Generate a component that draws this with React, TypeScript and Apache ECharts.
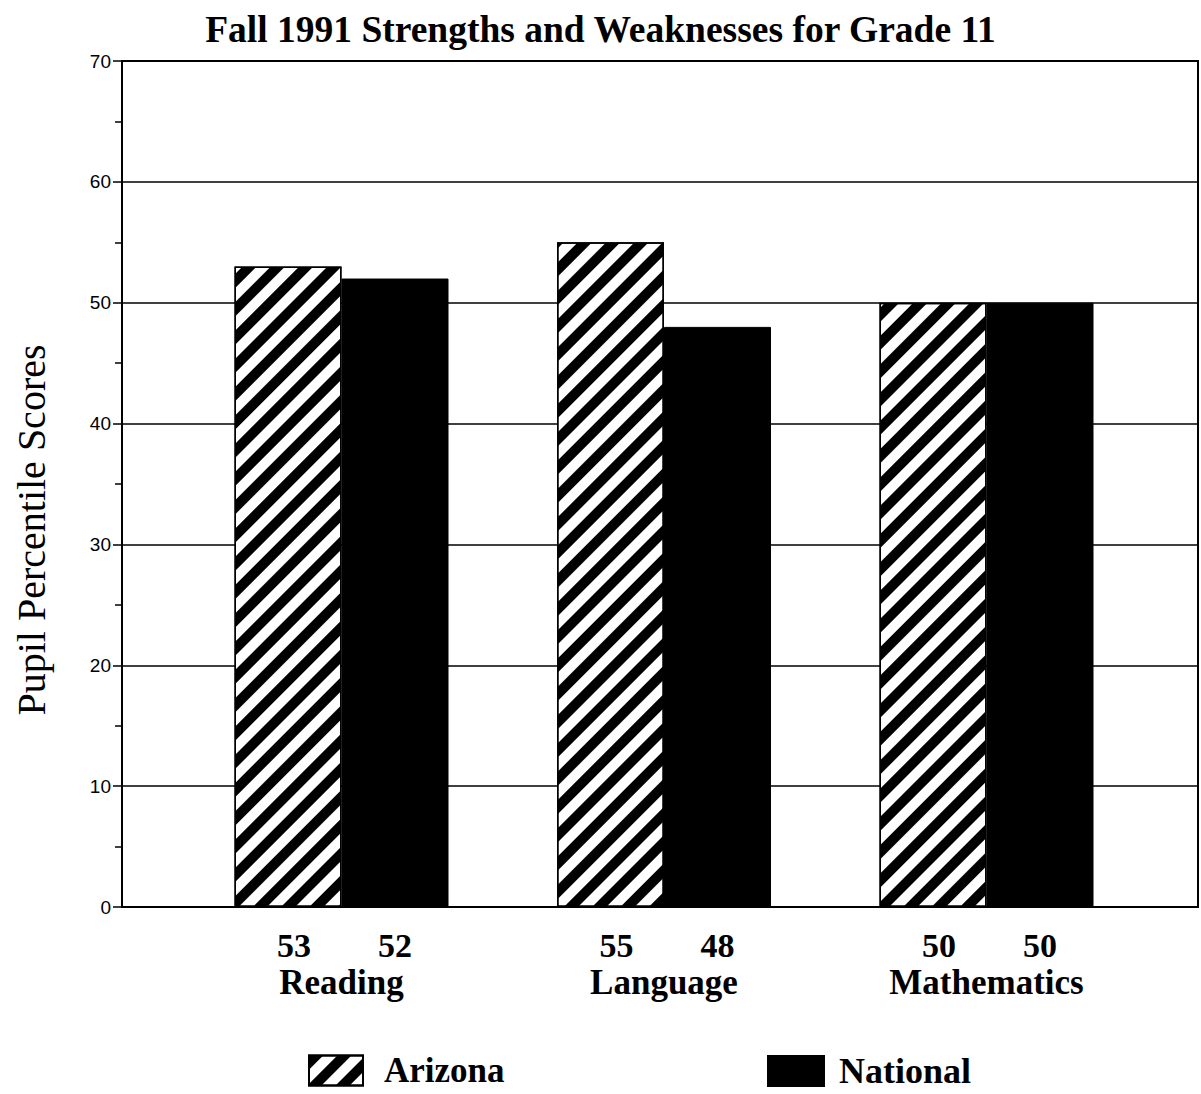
import React, { useEffect, useRef } from "react";
import * as echarts from "echarts";

const categories = ["Reading", "Language", "Mathematics"];
const arizona = [53, 55, 50];
const national = [52, 48, 50];
const seriesNames = ["Arizona", "National"];
const titleText = "Fall 1991 Strengths and Weaknesses for Grade 11";
const yName = "Pupil Percentile Scores";

const SERIF = "'Liberation Serif', 'Times New Roman', serif";
const SANS = "'Liberation Sans', Arial, sans-serif";

export default function App() {
  const ref = useRef<HTMLDivElement>(null);
  useEffect(() => {
    if (!ref.current) return;
    const chart = echarts.init(ref.current, null, { renderer: "svg" });
    const hatch = {
      symbol: "rect",
      symbolSize: 1,
      color: "#000",
      dashArrayX: [1, 0],
      dashArrayY: [10, 10],
      rotation: -Math.PI / 4,
    };
    const labelStyle = {
      show: true,
      position: "insideBottom",
      offset: [0, 60],
      formatter: "{c}",
      color: "#000",
      fontFamily: SERIF,
      fontWeight: "bold",
      fontSize: 34,
    };
    chart.setOption({
      animation: false,
      backgroundColor: "#fff",
      title: {
        text: titleText,
        left: "center",
        top: 5,
        textStyle: { fontFamily: SERIF, fontWeight: "bold", fontSize: 37.5, color: "#000" },
      },
      legend: [
        {
          data: [seriesNames[0]],
          left: 303,
          top: 1048,
          itemWidth: 54,
          itemHeight: 30,
          icon: "rect",
          textStyle: { fontFamily: SERIF, fontWeight: "bold", fontSize: 35, color: "#000", padding: [0, 0, 0, 16] },
        },
        {
          data: [seriesNames[1]],
          left: 762,
          top: 1048,
          itemWidth: 56,
          itemHeight: 30,
          icon: "rect",
          textStyle: { fontFamily: SERIF, fontWeight: "bold", fontSize: 36, color: "#000", padding: [0, 0, 0, 10] },
        },
      ],
      grid: [
        { left: 122, top: 61, width: 1076, height: 846, show: true, borderColor: "#000", borderWidth: 2, backgroundColor: "transparent" },
        { left: 180.25, top: 61, width: 967.5, height: 846 },
      ],
      xAxis: [
        { type: "value", gridIndex: 0, min: 0, max: 1, show: false },
        {
          type: "category",
          gridIndex: 1,
          data: categories,
          axisLine: { show: false },
          axisTick: { show: false },
          axisLabel: { margin: 58, fontFamily: SERIF, fontWeight: "bold", fontSize: 35, color: "#000" },
        },
      ],
      yAxis: [
        {
          type: "value",
          gridIndex: 0,
          min: 0,
          max: 70,
          interval: 10,
          axisLine: { show: true, lineStyle: { color: "#000", width: 2 } },
          axisTick: { show: true, length: 9, lineStyle: { color: "#000", width: 1.5 } },
          minorTick: { show: true, splitNumber: 2, length: 7, lineStyle: { color: "#000", width: 1.5 } },
          axisLabel: { fontFamily: SANS, fontSize: 19, color: "#000", margin: 11 },
          splitLine: { show: true, lineStyle: { color: "#000", width: 1.5 } },
        },
        { type: "value", gridIndex: 1, min: 0, max: 70, interval: 10, show: false, splitLine: { show: false } },
      ],
      graphic: [
        {
          type: "text",
          x: 31,
          y: 530,
          rotation: Math.PI / 2,
          style: {
            text: yName,
            fontFamily: SERIF,
            fontSize: 40,
            fill: "#000",
            align: "center",
            verticalAlign: "middle",
          },
        },
      ],
      series: [
        {
          name: seriesNames[0],
          type: "bar",
          xAxisIndex: 1,
          yAxisIndex: 1,
          data: arizona,
          barWidth: 107,
          barGap: "0%",
          itemStyle: { color: "#fff", borderColor: "#000", borderWidth: 1.5, decal: hatch },
          label: { ...labelStyle, offset: [6, 60] },
        },
        {
          name: seriesNames[1],
          type: "bar",
          xAxisIndex: 1,
          yAxisIndex: 1,
          data: national,
          barWidth: 107,
          barGap: "0%",
          itemStyle: { color: "#000", borderColor: "#000", borderWidth: 1 },
          label: labelStyle,
        },
      ],
    });
    return () => chart.dispose();
  }, []);
  return (
    <div
      ref={ref}
      style={{ position: "absolute", left: 0, top: 0, width: 1201, height: 1094 }}
    />
  );
}
